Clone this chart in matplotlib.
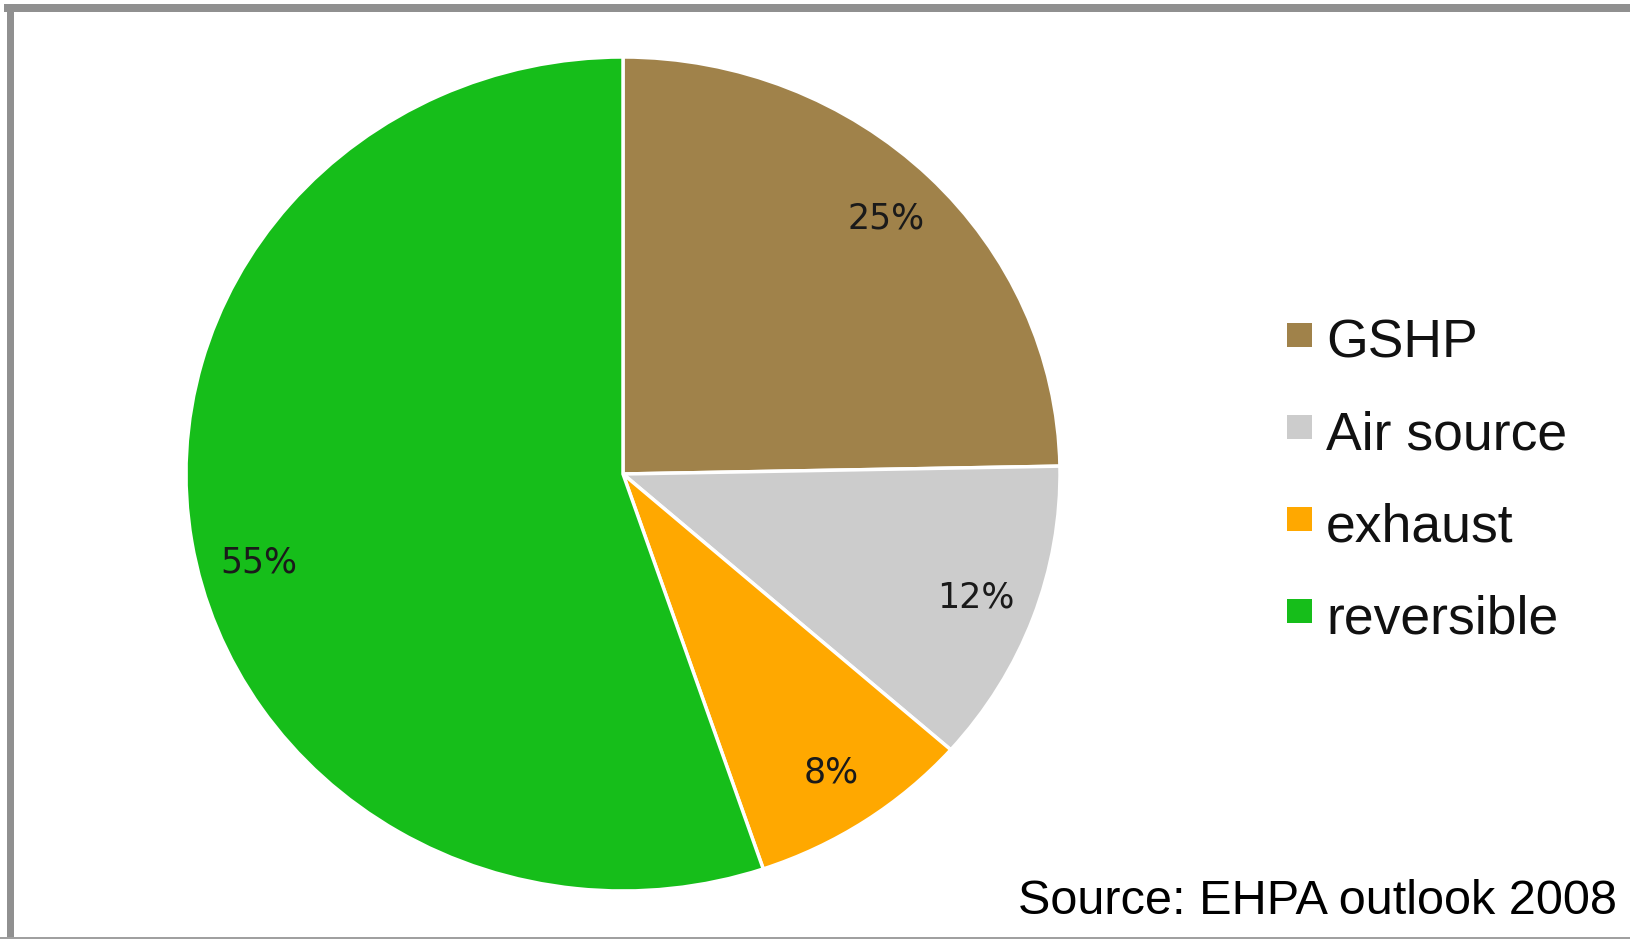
import numpy as np
import matplotlib.pyplot as plt
from matplotlib.patches import Rectangle

# heat pump sales by type (shares)
labels = ['GSHP', 'Air source', 'exhaust', 'reversible']
shares = [24.7, 11.8, 8.3, 55.2]
colors = ['#a0824a', '#cccccc', '#ffa800', '#16be1a']
source = 'Source: EHPA outlook 2008'

W, H = 1630, 939
fig = plt.figure(figsize=(W / 100, H / 100), dpi=100)

# pie is a bit wider than tall in the original
cx, cy, rx, ry = 623, 474, 437, 417
ax = fig.add_axes([(cx - rx) / W, (H - cy - ry) / H, 2 * rx / W, 2 * ry / H])
wedges, texts, autotexts = ax.pie(
    shares, colors=colors, startangle=90, counterclock=False,
    autopct='%.0f%%', pctdistance=0.86,
    wedgeprops=dict(edgecolor='white', linewidth=2.5),
    textprops=dict(fontsize=25, color='#1a1a1a', family='DejaVu Sans'))
ax.set_aspect('auto')
ax.set_xlim(-1, 1)
ax.set_ylim(-1, 1)

# the big slice's label sits a little below its middle angle
w = wedges[3]
ang = np.deg2rad((w.theta1 + w.theta2) / 2 + 5)
autotexts[3].set_position((0.86 * np.cos(ang), 0.86 * np.sin(ang)))

# legend drawn by hand
for i, (lab, col) in enumerate(zip(labels, colors)):
    yc = 335 + i * 92
    fig.add_artist(Rectangle((1287 / W, (H - yc - 12) / H), 25 / W, 24 / H,
                             transform=fig.transFigure, facecolor=col,
                             edgecolor='none'))
    fig.text(1326 / W, (H - yc - 8) / H, lab, fontsize=38.5,
             family='Liberation Sans', color='#111111', va='center', ha='left')

fig.text(1617 / W, (H - 914) / H, source, fontsize=35,
         family='Liberation Sans', color='black', ha='right', va='baseline')

# frame lines
fig.add_artist(Rectangle((4 / W, (H - 12) / H), 1, 8 / H, transform=fig.transFigure,
                         facecolor='#909090', edgecolor='none'))
fig.add_artist(Rectangle((7 / W, 0), 7 / W, (H - 4) / H, transform=fig.transFigure,
                         facecolor='#909090', edgecolor='none'))
fig.add_artist(Rectangle((0, 0), 1, 2 / H, transform=fig.transFigure,
                         facecolor='#a0a0a0', edgecolor='none'))

plt.savefig('out.png', dpi=100)
